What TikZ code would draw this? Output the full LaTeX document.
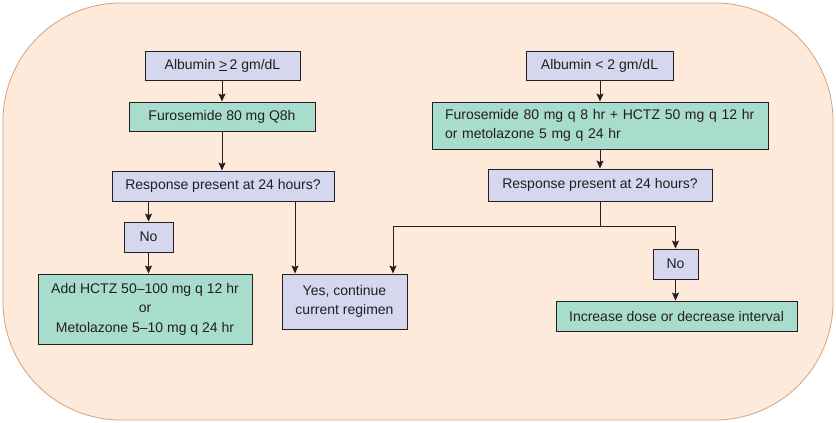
\documentclass[tikz,border=0pt]{standalone}
\usepackage{fontspec}
\setmainfont{Liberation Sans}
\usetikzlibrary{arrows.meta}
\definecolor{bgfill}{HTML}{FDEADB}
\definecolor{bgline}{HTML}{D6A27C}
\definecolor{lav}{HTML}{D4D7EE}
\definecolor{grn}{HTML}{A8DCCD}
\definecolor{ink}{HTML}{231F20}
\tikzset{
  box/.style={draw=ink, line width=0.9pt, inner sep=0pt, align=center,
    font=\fontsize{14}{19.5}\selectfont, text=ink},
  qbox/.style={box, fill=lav},
  gbox/.style={box, fill=grn},
  conn/.style={draw=ink, line width=0.9pt},
  arr/.style={conn, -{Stealth[length=8pt,width=7pt,inset=1.5pt]}}
}
\begin{document}
\begin{tikzpicture}[x=1pt,y=-1pt]
\useasboundingbox (0,0) rectangle (836,423);
\draw[fill=bgfill, draw=bgline, line width=0.8pt, rounded corners=118pt] (3,3) rectangle (833,420);

% left branch
\node[qbox, minimum width=155pt, minimum height=29pt] (a1) at (222.5,65.5) {Albumin \underline{>}\,2 gm/dL};
\node[gbox, minimum width=186pt, minimum height=29pt] (f1) at (222,116.5) {Furosemide 80 mg Q8h};
\node[qbox, minimum width=222pt, minimum height=30pt] (r1) at (223,186) {Response present at 24 hours?};
\node[qbox, minimum width=49pt, minimum height=30pt] (n1) at (148.5,237) {No};
\node[gbox, minimum width=214pt, minimum height=70pt] (h1) at (145,309) {Add HCTZ 50--100 mg q 12 hr\\or\\Metolazone 5--10 mg q 24 hr};
\node[qbox, minimum width=125pt, minimum height=55pt] (y1) at (344.5,301.5) {Yes, continue\\current regimen};

% right branch
\node[qbox, minimum width=147pt, minimum height=29pt] (a2) at (599.5,65.5) {Albumin < 2 gm/dL};
\node[gbox, minimum height=47pt, text width=310pt, inner xsep=13pt, align=left] (f2) at (600,125.5) {Furosemide 80 mg q 8 hr + HCTZ 50 mg q 12 hr\\or metolazone 5 mg q 24 hr};
\node[qbox, minimum width=224pt, minimum height=32pt] (r2) at (600,185) {Response present at 24 hours?};
\node[qbox, minimum width=45pt, minimum height=30pt] (n2) at (675.5,264) {No};
\node[gbox, minimum width=241pt, minimum height=30pt] (i2) at (676.5,316) {Increase dose or decrease interval};

% helper coordinates
\coordinate (cy1) at (295,0);
\coordinate (cy2) at (393,0);
\coordinate (jn) at (600,226);

% connectors left
\draw[arr] (a1.south -| f1) -- (f1.north);
\draw[arr] (f1.south) -- (f1.south |- r1.north);
\draw[arr] (r1.south -| n1) -- (n1.north);
\draw[arr] (r1.south -| cy1) -- (y1.north -| cy1);
\draw[arr] (n1.south) -- (n1.south |- h1.north);

% connectors right
\draw[arr] (a2.south -| f2) -- (f2.north);
\draw[arr] (f2.south) -- (f2.south |- r2.north);
\draw[conn] (r2.south) -- (jn);
\draw[arr] (jn) -| (y1.north -| cy2);
\draw[arr] (jn) -| (n2.north);
\draw[arr] (n2.south) -- (n2.south |- i2.north);
\end{tikzpicture}
\end{document}
